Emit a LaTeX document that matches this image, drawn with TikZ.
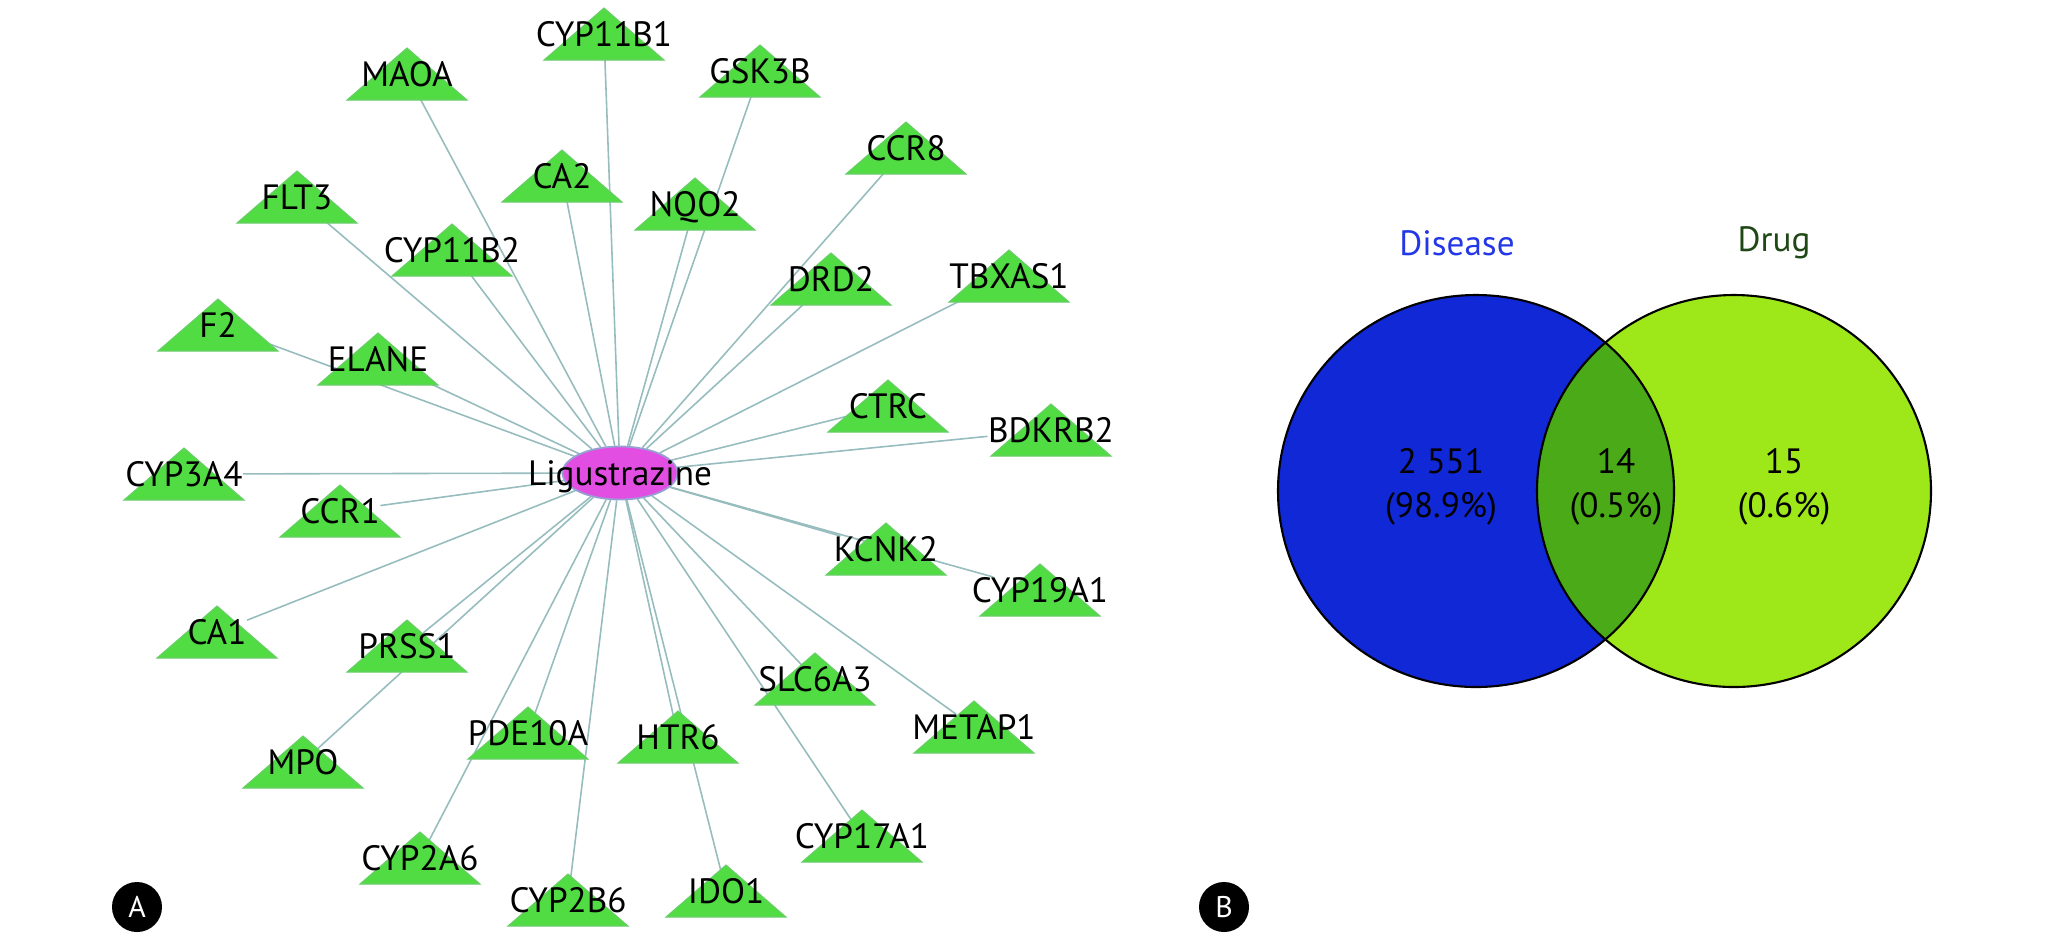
\documentclass[tikz,border=0pt]{standalone}
\usepackage{fontspec}
\setmainfont{PT Sans}
\usetikzlibrary{shapes.geometric}
\definecolor{TargetGreen}{RGB}{80,220,66}
\definecolor{TargetRim}{RGB}{105,205,105}
\definecolor{LinkGrey}{RGB}{150,188,190}
\definecolor{DrugPink}{RGB}{226,78,226}
\definecolor{DrugRim}{RGB}{150,160,210}
\definecolor{DiseaseBlue}{RGB}{16,40,214}
\definecolor{DrugLime}{RGB}{158,232,26}
\definecolor{OverlapGreen}{RGB}{74,170,24}
\definecolor{DiseaseText}{RGB}{35,55,230}
\definecolor{DrugText}{RGB}{32,72,22}
\pgfdeclarelayer{links}
\pgfsetlayers{links,main}
\tikzset{
  target/.style={font=\fontsize{10}{12}\selectfont,inner sep=0pt,
    text height=7pt,text depth=0pt},
  tri/.style={fill=TargetGreen,draw=TargetRim,line width=0.3pt},
  drug/.style={ellipse,fill=DrugPink,draw=DrugRim,line width=0.5pt,
    minimum width=1.15cm,minimum height=0.53cm,inner sep=0pt},
  link/.style={draw=LinkGrey,line width=0.45pt},
  vennlabel/.style={font=\fontsize{10}{12.5}\selectfont,align=center,
    inner sep=0pt},
  panel/.style={circle,fill=black,text=white,minimum size=0.5cm,
    inner sep=0pt,font=\fontsize{8.5}{10}\selectfont}
}
\begin{document}
\begin{tikzpicture}[x=0.01cm,y=-0.01cm]
\useasboundingbox (0,0) rectangle (2048,941);

% A: drug--target network
\node[drug,label={[target]center:Ligustrazine}] (lig) at (620,473) {};

\foreach \n/\x/\y in {CYP11B1/604/34, MAOA/407/74, GSK3B/760/71,
    CCR8/906/148, CA2/562/176, NQO2/695/204, FLT3/297/197,
    CYP11B2/452/250, DRD2/831/279, TBXAS1/1009/276, F2/218/325,
    ELANE/378/359, CTRC/888/406, BDKRB2/1051/430, CYP3A4/184/474,
    CCR1/340/511, KCNK2/886/549, CYP19A1/1040/590, CA1/217/632,
    PRSS1/407/646, SLC6A3/815/679, METAP1/974/727, PDE10A/528/733,
    HTR6/678/737, MPO/303/762, CYP17A1/862/836, CYP2A6/420/858,
    IDO1/726/891, CYP2B6/568/900}{
  \fill[tri] (\x-60,\y+26) -- (\x+60,\y+26) -- (\x,\y-26) -- cycle;
  \node[target] (\n) at (\x,\y) {\n};
  \begin{pgfonlayer}{links}
    \draw[link] (lig) -- (\n);
  \end{pgfonlayer}
}

% B: Venn diagram
\fill[DiseaseBlue] (1476,491) ellipse[x radius=198,y radius=196];
\fill[DrugLime] (1734,491) ellipse[x radius=197,y radius=196];
\begin{scope}
  \clip (1476,491) ellipse[x radius=198,y radius=196];
  \fill[OverlapGreen] (1734,491) ellipse[x radius=197,y radius=196];
\end{scope}
\draw[line width=0.6pt] (1476,491) ellipse[x radius=198,y radius=196]
  (1734,491) ellipse[x radius=197,y radius=196];

\node[vennlabel,text=DiseaseText] (disease) at (1457,243) {Disease};
\node[vennlabel,text=DrugText] (drugset) at (1774,243) {Drug};
\node[vennlabel] (diseaseonly) at (1441,487) {2 551\\(98.9\%)};
\node[vennlabel] (shared) at (1616,487) {14\\(0.5\%)};
\node[vennlabel] (drugonly) at (1784,487) {15\\(0.6\%)};

\node[panel] (panelA) at (137,907) {A};
\node[panel] (panelB) at (1224,907) {B};

\end{tikzpicture}
\end{document}
